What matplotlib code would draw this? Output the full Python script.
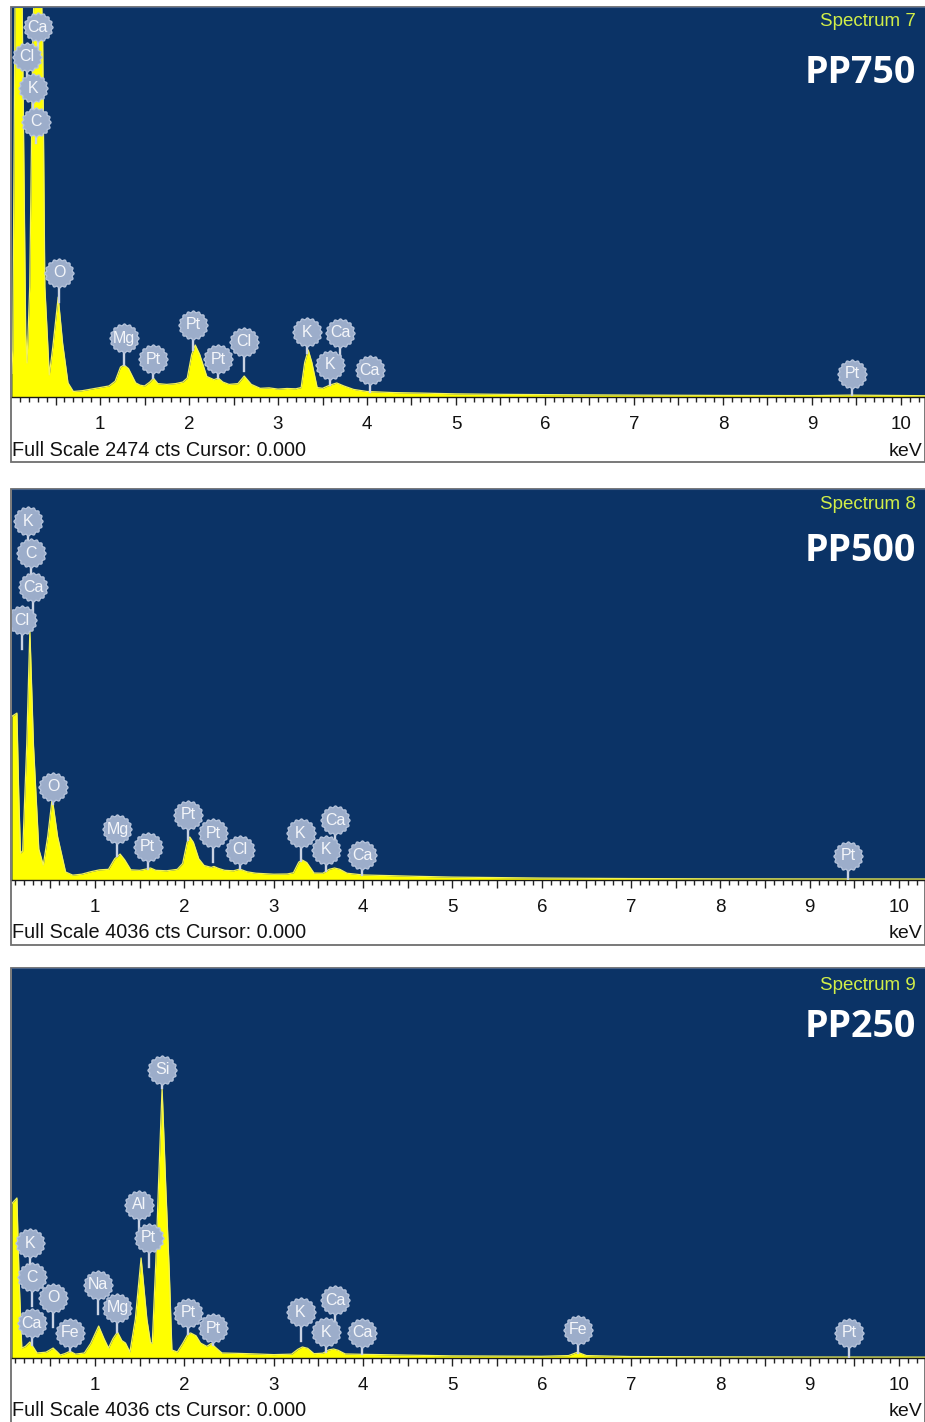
import numpy as np
import matplotlib
matplotlib.use("Agg")
import matplotlib.pyplot as plt
from matplotlib.path import Path
from matplotlib.patches import Rectangle
from matplotlib.ticker import MultipleLocator, FuncFormatter

# ---------------- spectrum data (keV, counts) ----------------
names = ["PP750", "PP500", "PP250"]
spectrum_ids = ["Spectrum 7", "Spectrum 8", "Spectrum 9"]
full_scale = [2474, 4036, 4036]

kev_750 = [0.01, 0.02, 0.045, 0.085, 0.125, 0.165, 0.18, 0.21, 0.245, 0.30, 0.355, 0.38,
           0.43, 0.47, 0.53, 0.58, 0.64, 0.70, 0.80, 0.90, 1.00, 1.10, 1.17, 1.23, 1.27,
           1.32, 1.40, 1.45, 1.50, 1.56, 1.60, 1.65, 1.75, 1.85, 1.93, 1.98, 2.03, 2.07,
           2.12, 2.20, 2.28, 2.33, 2.38, 2.45, 2.55, 2.62, 2.70, 2.80, 2.90, 3.00, 3.10,
           3.20, 3.26, 3.30, 3.34, 3.38, 3.44, 3.50, 3.58, 3.66, 3.74, 3.85, 4.00, 4.30,
           4.60, 5.00, 5.50, 6.00, 7.00, 8.00, 9.00, 9.44, 10.3]
cts_750 = [150, 300, 2500, 3400, 2500, 400, 216, 700, 2300, 3300, 2300, 700,
           140, 320, 634, 340, 90, 35, 40, 50, 60, 70, 100, 190, 203,
           180, 90, 75, 70, 95, 120, 85, 80, 85, 95, 120, 270, 330,
           270, 130, 110, 120, 95, 80, 85, 133, 80, 55, 58, 50, 54,
           52, 60, 220, 298, 220, 60, 55, 75, 89, 70, 48, 35, 28,
           25, 20, 17, 15, 12, 10, 9, 12, 8]

kev_500 = [0.07, 0.125, 0.145, 0.165, 0.19, 0.235, 0.27, 0.31, 0.37, 0.42, 0.47, 0.52,
           0.58, 0.67, 0.75, 0.85, 0.95, 1.05, 1.15, 1.22, 1.28, 1.33, 1.40, 1.50, 1.58,
           1.62, 1.68, 1.80, 1.92, 1.98, 2.03, 2.06, 2.10, 2.16, 2.22, 2.30, 2.33, 2.38,
           2.45, 2.55, 2.62, 2.70, 2.80, 3.00, 3.15, 3.22, 3.28, 3.32, 3.37, 3.45, 3.55,
           3.62, 3.68, 3.74, 3.82, 4.00, 4.30, 4.60, 5.00, 5.50, 6.00, 7.00, 8.00, 9.00,
           10.3]
cts_500 = [1690, 1723, 900, 279, 300, 1400, 2580, 1400, 320, 155, 450, 846,
           450, 83, 50, 60, 85, 105, 110, 220, 268, 210, 105, 100, 115,
           124, 100, 95, 110, 170, 390, 444, 390, 220, 150, 130, 140, 120,
           100, 95, 113, 85, 70, 60, 62, 75, 185, 206, 180, 72, 70,
           110, 124, 110, 70, 52, 45, 38, 30, 25, 20, 15, 12, 11,
           10]

kev_250 = [0.07, 0.125, 0.15, 0.18, 0.22, 0.27, 0.31, 0.35, 0.45, 0.53, 0.58, 0.61,
           0.66, 0.72, 0.78, 0.88, 0.95, 1.04, 1.10, 1.15, 1.20, 1.25, 1.30, 1.34, 1.39,
           1.45, 1.515, 1.58, 1.62, 1.64, 1.68, 1.71, 1.75, 1.79, 1.83, 1.86, 1.92, 1.98,
           2.04, 2.07, 2.13, 2.18, 2.25, 2.30, 2.36, 2.42, 2.60, 2.80, 3.00, 3.20, 3.27,
           3.32, 3.38, 3.45, 3.55, 3.62, 3.67, 3.72, 3.80, 4.00, 4.50, 5.00, 5.50, 6.00,
           6.30, 6.40, 6.50, 7.00, 8.00, 9.00, 10.3]
cts_250 = [1600, 1656, 800, 103, 120, 166, 110, 52, 60, 103, 60, 31,
           45, 70, 40, 52, 150, 331, 200, 103, 200, 269, 180, 155, 62,
           400, 1035, 400, 160, 150, 1000, 1800, 2795, 1800, 900, 83, 62, 150,
           250, 259, 230, 155, 120, 150, 100, 52, 48, 42, 35, 40, 90,
           114, 100, 45, 50, 85, 93, 80, 42, 38, 30, 22, 20, 18,
           25, 60, 25, 15, 12, 10, 9]

# ---------------- element markers (keV, counts of the badge) ----------------
el_750 = ["Ca", "Cl", "K", "C", "O", "Mg", "Pt", "Pt", "Pt", "Cl", "K", "Ca", "K", "Ca", "Pt"]
el_kev_750 = [0.30, 0.18, 0.25, 0.28, 0.54, 1.27, 1.60, 2.05, 2.33, 2.62, 3.33, 3.70, 3.58, 4.03, 9.45]
el_cts_750 = [2347, 2157, 1960, 1745, 787, 374, 241, 457, 241, 349, 412, 406, 203, 171, 146]

el_500 = ["K", "C", "Ca", "Cl", "O", "Mg", "Pt", "Pt", "Pt", "Cl", "K", "Ca", "K", "Ca", "Pt"]
el_kev_500 = [0.25, 0.28, 0.31, 0.18, 0.53, 1.25, 1.59, 2.04, 2.32, 2.62, 3.30, 3.69, 3.59, 3.99, 9.43]
el_cts_500 = [3705, 3375, 3024, 2683, 960, 526, 341, 671, 485, 310, 485, 619, 310, 258, 248]

el_250 = ["Si", "Al", "Pt", "K", "C", "O", "Ca", "Fe", "Na", "Mg", "Pt", "Pt",
          "K", "Ca", "K", "Ca", "Fe", "Pt"]
el_kev_250 = [1.75, 1.49, 1.60, 0.27, 0.29, 0.53, 0.29, 0.72, 1.03, 1.25, 2.04, 2.32,
              3.30, 3.69, 3.58, 3.99, 6.41, 9.44]
el_cts_250 = [2981, 1584, 1242, 1190, 838, 621, 362, 259, 756, 518, 466, 310,
              476, 600, 269, 259, 290, 259]

spectra = [(kev_750, cts_750), (kev_500, cts_500), (kev_250, cts_250)]
elements = [(el_750, el_kev_750, el_cts_750),
            (el_500, el_kev_500, el_cts_500),
            (el_250, el_kev_250, el_cts_250)]

# ---------------- layout (pixels) ----------------
W, H = 925, 1422
plot_top = [7, 489, 968]
plot_bot = [397, 880, 1358]
frame_bot = [462, 945, 1440]
xlims = [(0.011, 10.27), (0.07, 10.29), (0.07, 10.29)]
id_y = [22, 505, 985]
name_y = [73, 551, 1027]
scale_y = [451, 932, 1411]

BG = "#0b3366"
YEL = "#ffff00"
BADGE = "#9cadca"

plt.rcParams["font.family"] = ["Liberation Sans", "DejaVu Sans"]

# scalloped badge outline
th = np.linspace(0, 2 * np.pi, 129)
rr = 1 + 0.06 * np.cos(16 * th)
badge = Path(np.column_stack([rr * np.cos(th), rr * np.sin(th)]), closed=True)

fig = plt.figure(figsize=(W / 100, H / 100), dpi=100)
fig.patch.set_facecolor("white")


def fx(px):
    return px / W


def fy(py):
    return 1 - py / H


for i in range(3):
    kev, cts = spectra[i]
    fs = full_scale[i]

    # grey frame around plot + axis strip
    fig.patches.append(Rectangle((fx(11), fy(frame_bot[i])), fx(925) - fx(11),
                                 fy(plot_top[i]) - fy(frame_bot[i]),
                                 transform=fig.transFigure, facecolor="none",
                                 edgecolor="#6e6e6e", lw=1.3, zorder=-5))

    ax = fig.add_axes([fx(12), fy(plot_bot[i]), fx(925) - fx(12),
                       fy(plot_top[i]) - fy(plot_bot[i])])
    ax.set_zorder(2)
    ax.set_facecolor(BG)
    ax.set_xlim(*xlims[i])
    ax.set_ylim(0, fs)

    ax.fill_between(kev, cts, 0, color=YEL, lw=0, zorder=2)
    ax.plot(kev, cts, color="#f2f25a", lw=0.9, zorder=2)

    # element badges with stems
    names_i, ekev, ects = elements[i]
    for sym, e, c in zip(names_i, ekev, ects):
        spec = np.interp(e, kev, cts)
        if spec < c:
            low = max(spec, c - 0.075 * fs)
        else:
            low = c - 0.055 * fs
        ax.plot([e, e], [low, c], color="#c9d2e2", lw=1.7, zorder=3)
        ax.plot(e, c, marker=badge, ms=21, mfc=BADGE, mec="#b8c5dc", mew=0.9, zorder=4)
        ax.text(e, c, sym, color="#f4f6fa", fontsize=11.5, ha="center", va="center",
                zorder=5)

    for s in ("left", "right"):
        ax.spines[s].set_visible(False)
    ax.spines["top"].set_color("#4c6488")
    ax.spines["top"].set_linewidth(0.8)
    ax.spines["bottom"].set_color("#1a1a1a")
    ax.spines["bottom"].set_linewidth(1.0)

    ax.set_yticks([])
    ax.xaxis.set_major_locator(MultipleLocator(0.5))
    ax.xaxis.set_minor_locator(MultipleLocator(0.1))
    ax.xaxis.set_major_formatter(FuncFormatter(
        lambda v, p: f"{v:.0f}" if abs(v - round(v)) < 1e-6 else ""))
    ax.tick_params(axis="x", which="major", direction="out", length=6, width=1,
                   color="#222222", labelsize=13.5, pad=8, labelcolor="#111111")
    ax.tick_params(axis="x", which="minor", direction="out", length=3.5, width=1,
                   color="#222222")

    fig.text(fx(916), fy(id_y[i]), spectrum_ids[i], color="#d2ee48", fontsize=13.5,
             ha="right", va="center", zorder=5)
    fig.text(fx(916), fy(name_y[i]), names[i], color="white", fontsize=27,
             fontweight="bold", family="Open Sans", ha="right", va="center", zorder=5)
    fig.text(fx(12), fy(scale_y[i]), f"Full Scale {fs} cts Cursor: 0.000",
             color="#111111", fontsize=14.3, ha="left", va="center")
    fig.text(fx(922), fy(scale_y[i] + 1), "keV", color="#111111", fontsize=14,
             ha="right", va="center")

fig.savefig("out.png", dpi=100)
